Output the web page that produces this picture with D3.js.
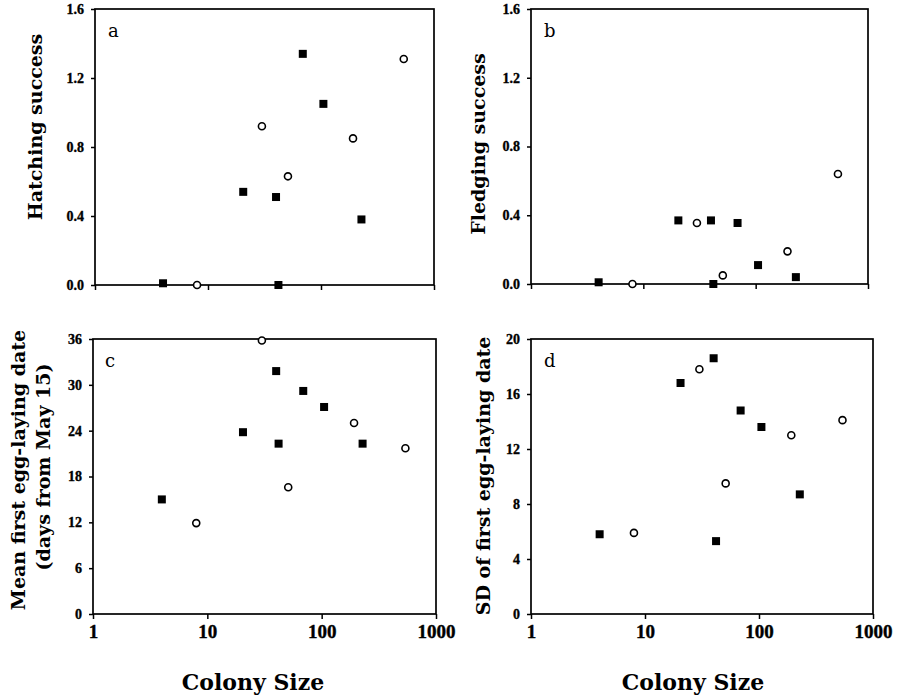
<!DOCTYPE html>
<html><head><meta charset="utf-8">
<script src="https://cdn.jsdelivr.net/npm/d3@7"></script>
<style>body{margin:0;background:#fff}svg{display:block}</style>
</head><body>
<svg id="chart" width="899" height="698"></svg>
<script>
// Colony sizes (x) for the two groups
const colonySquares = [4, 20.5, 40, 42, 69, 105, 228];
const colonyCircles = [8, 30, 51, 192, 540];
// Panel a: hatching success
const hatchSquares = [0.01, 0.54, 0.51, 0.0, 1.34, 1.05, 0.38];
const hatchCircles = [0.0, 0.92, 0.63, 0.85, 1.31];
// Panel b: fledging success
const fledgeSquares = [0.01, 0.37, 0.37, 0.0, 0.355, 0.11, 0.04];
const fledgeCircles = [0.0, 0.355, 0.05, 0.19, 0.64];
// Panel c: mean first egg-laying date
const meanDateSquares = [15, 23.8, 31.8, 22.3, 29.2, 27.1, 22.3];
const meanDateCircles = [11.9, 35.8, 16.6, 25.0, 21.7];
// Panel d: SD of first egg-laying date
const sdDateSquares = [5.8, 16.8, 18.6, 5.3, 14.8, 13.6, 8.7];
const sdDateCircles = [5.9, 17.8, 9.5, 13.0, 14.1];
// Tick values
const xTicks = [1, 10, 100, 1000];
const successTicks = [0, 0.4, 0.8, 1.2, 1.6];
const meanDateTicks = [0, 6, 12, 18, 24, 30, 36];
const sdDateTicks = [0, 4, 8, 12, 16, 20];

const svg = d3.select("#chart");
const serifBold = "'DejaVu Serif', serif";
const tickFont = "'Liberation Serif', 'Times New Roman', serif";

const panels = [
  {letter:"a", box:[95,434,9,285], yDom:[0,1.6], yTicks:successTicks, fmt:d3.format(".1f"),
   sq:hatchSquares, ci:hatchCircles, xLabels:false,
   titles:[{t:"Hatching success", x:42, y:127}], letterPos:[108,37]},
  {letter:"b", box:[531,868,9,284], yDom:[0,1.6], yTicks:successTicks, fmt:d3.format(".1f"),
   sq:fledgeSquares, ci:fledgeCircles, xLabels:false,
   titles:[{t:"Fledging success", x:485, y:144}], letterPos:[544,37]},
  {letter:"c", box:[93,436,339,614], yDom:[0,36], yTicks:meanDateTicks, fmt:d3.format("d"),
   sq:meanDateSquares, ci:meanDateCircles, xLabels:true,
   titles:[{t:"Mean first egg-laying date", x:25, y:470},{t:"(days from May 15)", x:50, y:467}],
   letterPos:[105,367], colony:[253,690]},
  {letter:"d", box:[531,873,339,614], yDom:[0,20], yTicks:sdDateTicks, fmt:d3.format("d"),
   sq:sdDateSquares, ci:sdDateCircles, xLabels:true,
   titles:[{t:"SD of first egg-laying date", x:490, y:476}],
   letterPos:[544,367], colony:[693,690]}
];

panels.forEach(p => {
  const [x0,x1,y0,y1] = p.box;
  const x = d3.scaleLog().domain([1,1000]).range([x0,x1]);
  const y = d3.scaleLinear().domain(p.yDom).range([y1,y0]);
  const g = svg.append("g");

  // frame
  g.append("rect").attr("x",x0).attr("y",y0).attr("width",x1-x0).attr("height",y1-y0)
    .attr("fill","none").attr("stroke","#000").attr("stroke-width",1.7);

  // y axis
  const ya = g.append("g").attr("transform",`translate(${x0},0)`)
    .call(d3.axisLeft(y).tickValues(p.yTicks).tickFormat(p.fmt).tickSize(4).tickPadding(7));
  ya.select(".domain").remove();
  ya.selectAll("line").attr("stroke","#000").attr("stroke-width",1.5);
  ya.selectAll("text").style("font-family",tickFont).style("font-weight","bold")
    .style("font-size","14px").attr("fill","#000")
    .attr("stroke","#000").attr("stroke-width",0.35);

  // x axis
  const xa = g.append("g").attr("transform",`translate(0,${y1})`)
    .call(d3.axisBottom(x).tickValues(xTicks).tickFormat(p.xLabels ? d3.format("d") : () => "")
      .tickSize(5).tickPadding(6));
  xa.select(".domain").remove();
  xa.selectAll("line").attr("stroke","#000").attr("stroke-width",1.5);
  xa.selectAll("text").style("font-family",tickFont).style("font-weight","bold")
    .style("font-size","19px").attr("fill","#000")
    .attr("stroke","#000").attr("stroke-width",0.4);

  // panel letter
  g.append("text").attr("x",p.letterPos[0]).attr("y",p.letterPos[1]).text(p.letter)
    .style("font-family",serifBold).style("font-size","18px").attr("fill","#000");

  // squares
  const s = 8;
  g.selectAll("rect.sq").data(colonySquares.map((c,i)=>[c,p.sq[i]])).join("rect")
    .attr("class","sq")
    .attr("x",d=>x(d[0])-s/2).attr("y",d=>y(d[1])-s/2).attr("width",s).attr("height",s)
    .attr("fill","#000");
  // circles
  g.selectAll("circle.ci").data(colonyCircles.map((c,i)=>[c,p.ci[i]])).join("circle")
    .attr("class","ci")
    .attr("cx",d=>x(d[0])).attr("cy",d=>y(d[1])).attr("r",3.5)
    .attr("fill","#fff").attr("stroke","#000").attr("stroke-width",1.6);

  // axis titles
  p.titles.forEach(t => {
    g.append("text").attr("transform",`translate(${t.x},${t.y}) rotate(-90)`)
      .attr("text-anchor","middle").style("font-family",serifBold).style("font-weight","bold")
      .style("font-size","19px").attr("fill","#000").text(t.t);
  });
  if (p.colony) {
    g.append("text").attr("x",p.colony[0]).attr("y",p.colony[1]).attr("text-anchor","middle")
      .style("font-family",serifBold).style("font-weight","bold").style("font-size","22px")
      .attr("fill","#000").text("Colony Size");
  }
});
</script>
</body></html>
